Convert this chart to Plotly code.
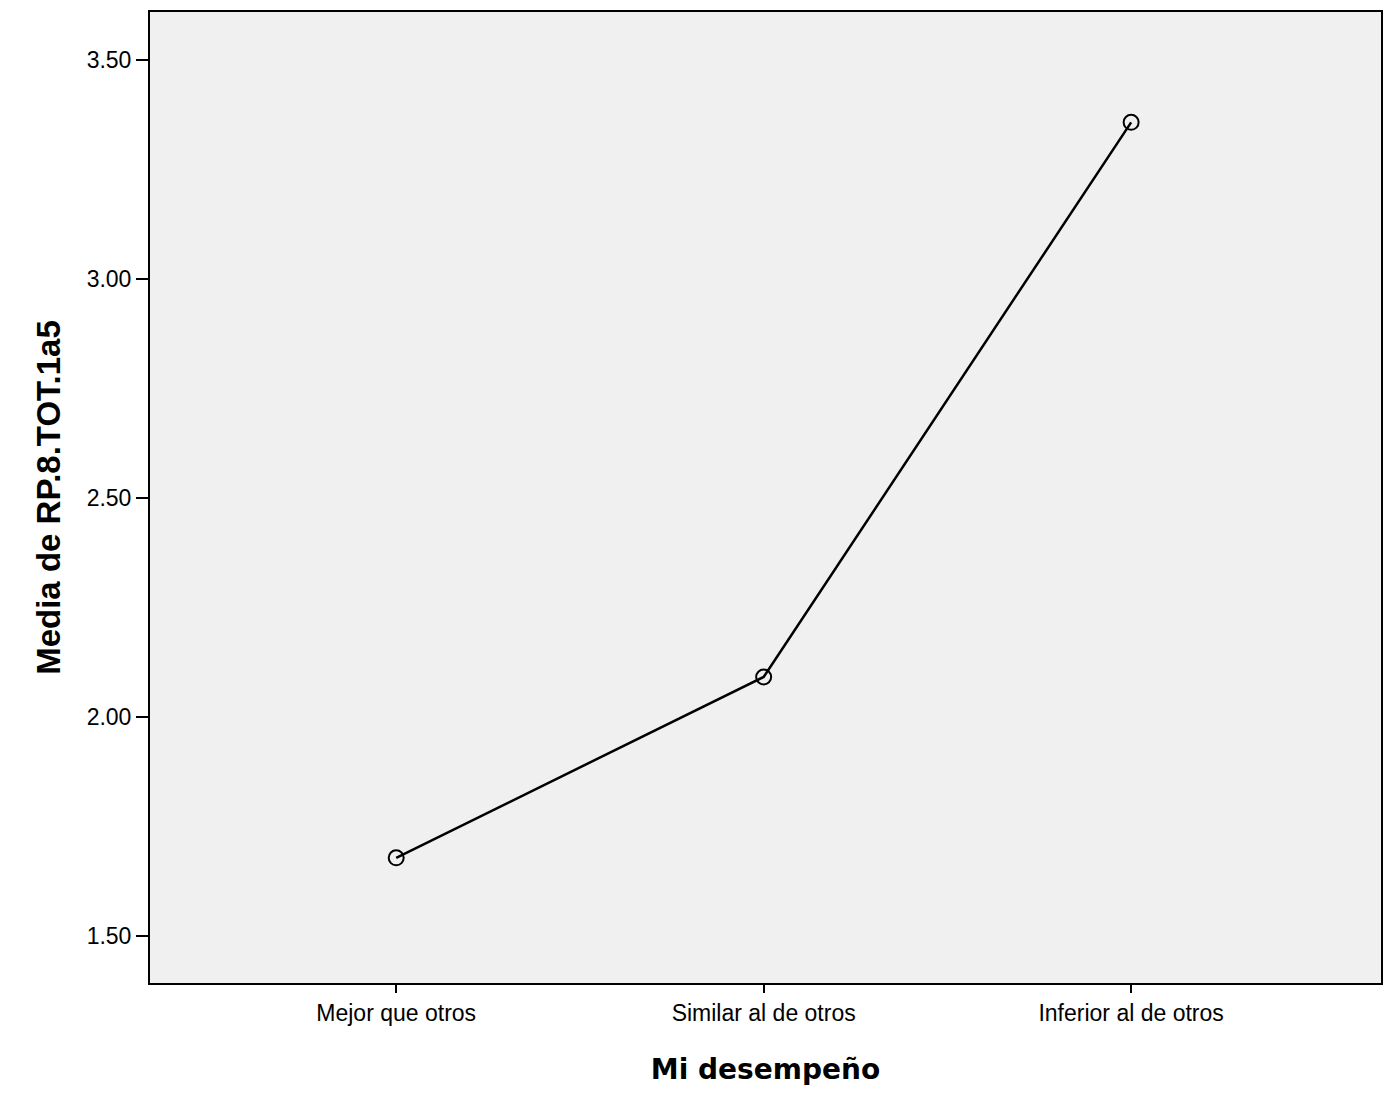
import plotly.graph_objects as go

categories = ["Mejor que otros", "Similar al de otros", "Inferior al de otros"]
means = [1.678, 2.091, 3.358]
y_ticks = [1.5, 2.0, 2.5, 3.0, 3.5]
y_tick_labels = ["1.50", "2.00", "2.50", "3.00", "3.50"]

fig = go.Figure()
fig.add_trace(go.Scatter(
    x=list(range(len(categories))), y=means, mode="lines+markers",
    line=dict(color="black", width=2.5),
    marker=dict(symbol="circle-open", size=15, color="black", line=dict(width=2)),
    showlegend=False,
))

fig.update_layout(
    width=1395, height=1117,
    margin=dict(l=142, r=22, t=2, b=142),
    paper_bgcolor="white", plot_bgcolor="#f0f0f0",
    font=dict(family="Liberation Sans, Arial", color="black", size=24),
)
fig.update_xaxes(
    tickmode="array", tickvals=list(range(len(categories))), ticktext=categories,
    range=[-0.67, 2.68], showgrid=False, zeroline=False,
    showline=True, linecolor="black", linewidth=2, mirror=True,
    ticks="outside", ticklen=8, tickwidth=2, tickcolor="black",
    tickfont=dict(size=23),
    title=dict(text="<b>Mi desempeño</b>", font=dict(family="DejaVu Sans, Verdana", size=28), standoff=35),
)
fig.update_yaxes(
    tickmode="array", tickvals=y_ticks, ticktext=y_tick_labels,
    range=[1.392, 3.610], showgrid=False, zeroline=False,
    showline=True, linecolor="black", linewidth=2, mirror=True,
    ticks="outside", ticklen=12, tickwidth=2, tickcolor="black",
    tickfont=dict(size=23),
    title=dict(text="<b>Media de RP.8.TOT.1a5</b>", font=dict(family="Liberation Sans, Arial", size=33), standoff=16),
)

fig.write_html("out.html")
